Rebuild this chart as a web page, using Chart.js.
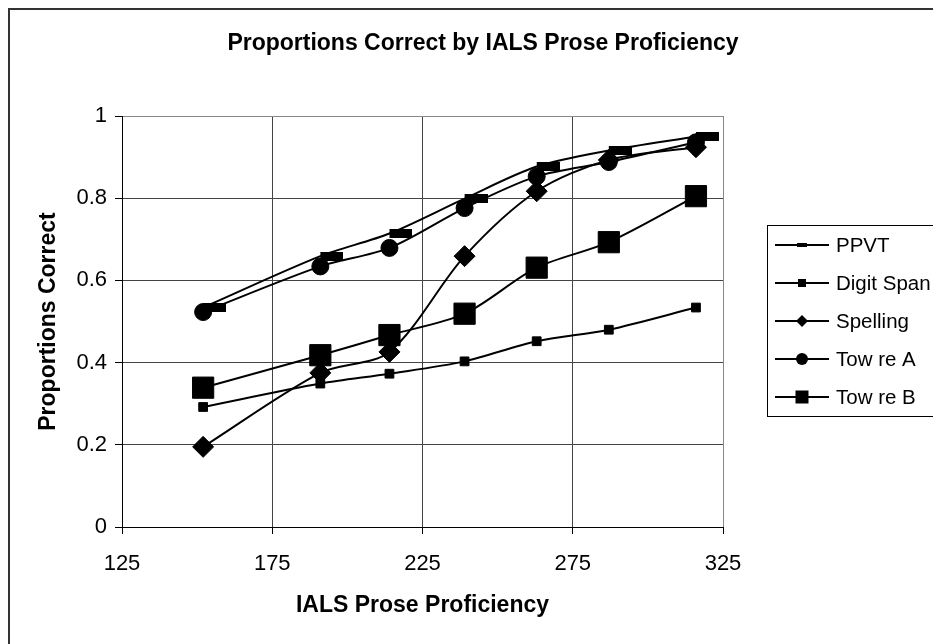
<!DOCTYPE html>
<html>
<head>
<meta charset="utf-8">
<script src="https://cdn.jsdelivr.net/npm/chart.js@4.4.1/dist/chart.umd.min.js"></script>
<style>
  html, body { margin: 0; padding: 0; background: #fff; }
  #wrap { width: 933px; height: 644px; }
</style>
</head>
<body>
<div id="wrap"><canvas id="prose-chart" width="933" height="644"></canvas></div>
<script>
// IALS prose score for each group
const proseScores = [152, 191, 214, 239, 263, 287, 316];

const ppvt       = [0.534, 0.659, 0.714, 0.799, 0.877, 0.916, 0.950];
const digitSpan  = [0.292, 0.349, 0.373, 0.403, 0.452, 0.480, 0.534];
const spelling   = [0.195, 0.375, 0.426, 0.659, 0.817, 0.893, 0.924];
const towreA     = [0.523, 0.634, 0.679, 0.776, 0.853, 0.888, 0.936];
const towreB     = [0.339, 0.418, 0.467, 0.519, 0.631, 0.693, 0.805];

const seriesNames = ['PPVT', 'Digit Span', 'Spelling', 'Tow re A', 'Tow re B'];
const xTicks = [125, 175, 225, 275, 325];
const yTicks = [0, 0.2, 0.4, 0.6, 0.8, 1];

const FONT = '"Liberation Sans", Arial, sans-serif';

// PPVT marker: a flat bar sitting to the right of the point
const dash = document.createElement('canvas');
dash.width = 46;
dash.height = 9;
const dctx = dash.getContext('2d');
dctx.fillStyle = '#000';
dctx.fillRect(23, 0, 23, 9);

function pts(values) {
    return values.map(function(v, i) { return { x: proseScores[i], y: v }; });
}

function series(label, values, style, radius, order) {
    return {
        label: label,
        data: pts(values),
        borderColor: '#000',
        backgroundColor: '#000',
        borderWidth: 2,
        tension: 0.3,
        pointStyle: style,
        pointRadius: radius,
        pointBorderWidth: 1,
        pointBackgroundColor: '#000',
        pointBorderColor: '#000',
        order: order
    };
}

// title, frame and the side legend
const decorations = {
    id: 'decorations',
    afterDraw(chart) {
        const ctx = chart.ctx;
        ctx.save();
        ctx.strokeStyle = '#333';
        ctx.lineWidth = 2;
        ctx.strokeRect(9, 9, 1000, 1000);

        ctx.fillStyle = '#000';
        ctx.font = 'bold 23px ' + FONT;
        ctx.textAlign = 'center';
        ctx.textBaseline = 'middle';
        ctx.fillText('Proportions Correct by IALS Prose Proficiency', 483, 44);

        ctx.lineWidth = 1;
        ctx.strokeStyle = '#000';
        ctx.strokeRect(767.5, 225.5, 300, 191);

        ctx.font = '20.5px ' + FONT;
        ctx.textAlign = 'left';
        chart.data.datasets.forEach(function(ds, i) {
            const y = 245 + i * 38;
            ctx.lineWidth = 2;
            ctx.beginPath();
            ctx.moveTo(775, y);
            ctx.lineTo(829, y);
            ctx.stroke();
            ctx.beginPath();
            if (i === 0) {
                ctx.rect(797, y - 2, 10, 4);
            } else if (i === 1) {
                ctx.rect(798, y - 4, 8, 8);
            } else if (i === 2) {
                ctx.moveTo(796, y); ctx.lineTo(802, y - 6); ctx.lineTo(808, y); ctx.lineTo(802, y + 6);
                ctx.closePath();
            } else if (i === 3) {
                ctx.arc(802, y, 6, 0, Math.PI * 2);
            } else {
                ctx.rect(795.5, y - 6.5, 13, 13);
            }
            ctx.fill();
            ctx.fillText(ds.label, 836, y + 1);
        });
        ctx.restore();
    }
};

new Chart(document.getElementById('prose-chart'), {
    type: 'line',
    data: {
        datasets: [
            series(seriesNames[0], ppvt, dash, 5, 5),
            series(seriesNames[1], digitSpan, 'rect', 6.2, 4),
            series(seriesNames[2], spelling, 'rectRot', 10.5, 3),
            series(seriesNames[3], towreA, 'circle', 8.5, 2),
            series(seriesNames[4], towreB, 'rect', 15, 1)
        ]
    },
    options: {
        responsive: false,
        animation: false,
        events: [],
        layout: { padding: { top: 116, right: 210, bottom: 0, left: 0 } },
        plugins: {
            legend: { display: false },
            title: { display: false },
            tooltip: { enabled: false }
        },
        scales: {
            x: {
                type: 'linear',
                min: 125,
                max: 325,
                afterBuildTicks: function(scale) {
                    scale.ticks = xTicks.map(function(v) { return { value: v }; });
                },
                afterFit: function(scale) { scale.height = 117; },
                grid: {
                    color: function(c) { return c.tick && c.tick.value === 325 ? '#888' : '#444'; },
                    tickColor: '#000',
                    tickLength: 7
                },
                border: { color: '#000', width: 1 },
                ticks: {
                    color: '#000',
                    font: { family: FONT, size: 22 },
                    padding: 17,
                    maxRotation: 0
                },
                title: {
                    display: true,
                    text: 'IALS Prose Proficiency',
                    color: '#000',
                    font: { family: FONT, size: 23, weight: 'bold' },
                    padding: { top: 0, bottom: 25 }
                }
            },
            y: {
                min: 0,
                max: 1,
                afterBuildTicks: function(scale) {
                    scale.ticks = yTicks.map(function(v) { return { value: v }; });
                },
                afterFit: function(scale) { scale.width = 122; },
                grid: {
                    color: function(c) { return c.tick && c.tick.value === 1 ? '#888' : '#444'; },
                    tickColor: '#000',
                    tickLength: 7
                },
                border: { color: '#000', width: 1 },
                ticks: {
                    color: '#000',
                    font: { family: FONT, size: 22 },
                    padding: 8,
                    callback: function(v) { return String(Math.round(v * 10) / 10); }
                },
                title: {
                    display: true,
                    text: 'Proportions Correct',
                    color: '#000',
                    font: { family: FONT, size: 23, weight: 'bold' },
                    padding: { top: 35, bottom: 0 }
                }
            }
        }
    },
    plugins: [decorations]
});
</script>
</body>
</html>
